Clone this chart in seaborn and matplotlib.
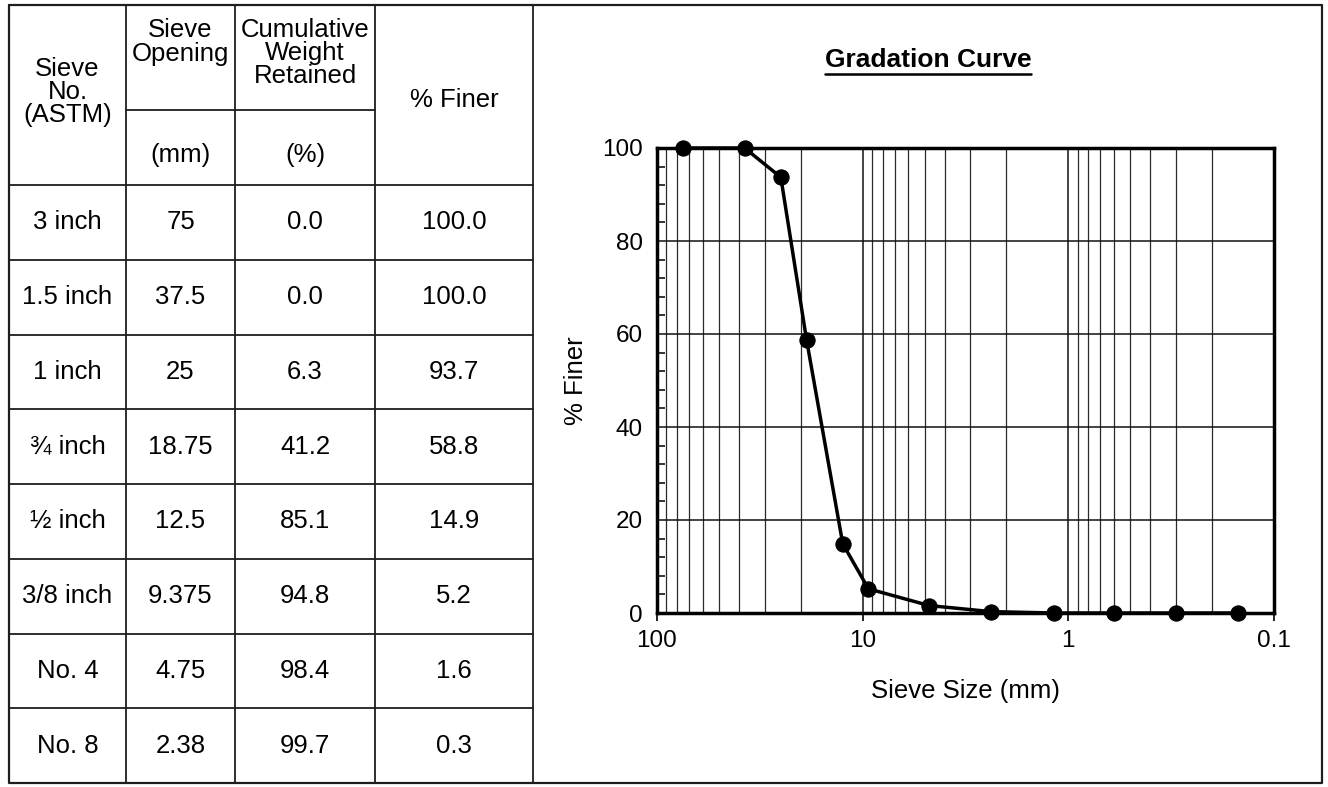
import matplotlib
matplotlib.use("Agg")
import matplotlib.pyplot as plt
import seaborn as sns
from matplotlib.ticker import MultipleLocator, LogLocator, NullFormatter

# --- table data ---
sieve_no = ["3 inch", "1.5 inch", "1 inch", "¾ inch", "½ inch", "3/8 inch", "No. 4", "No. 8"]
sieve_opening = ["75", "37.5", "25", "18.75", "12.5", "9.375", "4.75", "2.38"]
cum_retained = ["0.0", "0.0", "6.3", "41.2", "85.1", "94.8", "98.4", "99.7"]
pct_finer = ["100.0", "100.0", "93.7", "58.8", "14.9", "5.2", "1.6", "0.3"]

# --- curve data (table sieves plus the finer sieves at 0 %) ---
curve_size = [75, 37.5, 25, 18.75, 12.5, 9.375, 4.75, 2.38, 1.18, 0.6, 0.3, 0.15]
curve_finer = [100.0, 100.0, 93.7, 58.8, 14.9, 5.2, 1.6, 0.3, 0.0, 0.0, 0.0, 0.0]
x_ticks = [100, 10, 1, 0.1]
x_ticklabels = ["100", "10", "1", "0.1"]

sns.set_style("ticks")
plt.rcParams['font.family'] = ['Liberation Sans', 'DejaVu Sans']
plt.rcParams['text.color'] = 'black'
plt.rcParams['axes.labelcolor'] = 'black'
plt.rcParams['xtick.color'] = 'black'
plt.rcParams['ytick.color'] = 'black'

W, H = 1328, 787
fig = plt.figure(figsize=(W / 100, H / 100), dpi=100)
fig.patch.set_facecolor("white")

# background axes in pixel units for the table and the frame
bg = fig.add_axes([0, 0, 1, 1], zorder=0)
bg.set_xlim(0, W)
bg.set_ylim(H, 0)
bg.axis("off")

lc = "#1e1e1e"
# outer frame
bg.plot([9, 1322, 1322, 9, 9], [5, 5, 783, 783, 5], color=lc, lw=1.6)
# column lines
col_x = [9, 126, 235, 375, 533]
for cx in col_x[1:]:
    bg.plot([cx, cx], [5, 783], color=lc, lw=1.3)
# header sub line (units row)
bg.plot([126, 375], [110, 110], color=lc, lw=1.3)
# row lines
top_row, bottom = 185, 783
row_h = (bottom - top_row) / len(sieve_no)
for i in range(len(sieve_no)):
    y = top_row + i * row_h
    bg.plot([9, 533], [y, y], color=lc, lw=1.3)

fs = 18.5
centers = [(col_x[i] + col_x[i + 1]) / 2 for i in range(4)]
bg.text(centers[0], 92, "Sieve\nNo.\n(ASTM)", ha="center", va="center", fontsize=fs, linespacing=0.95)
bg.text(centers[1], 42, "Sieve\nOpening", ha="center", va="center", fontsize=fs, linespacing=0.95)
bg.text(centers[2], 53, "Cumulative\nWeight\nRetained", ha="center", va="center", fontsize=fs, linespacing=0.95)
bg.text(centers[3], 100, "% Finer", ha="center", va="center", fontsize=fs)
bg.text(centers[1], 155, "(mm)", ha="center", va="center", fontsize=fs)
bg.text(centers[2], 155, "(%)", ha="center", va="center", fontsize=fs)

for i, row in enumerate(zip(sieve_no, sieve_opening, cum_retained, pct_finer)):
    yc = top_row + (i + 0.5) * row_h
    for j, val in enumerate(row):
        bg.text(centers[j], yc, val, ha="center", va="center", fontsize=fs)

# --- gradation curve ---
ax = fig.add_axes([657 / W, 1 - 613 / H, (1274 - 657) / W, (613 - 148) / H], zorder=2)
ax.set_facecolor("white")
sns.lineplot(x=curve_size, y=curve_finer, ax=ax, color="black", lw=2.5, marker="o",
             markersize=11, markeredgecolor="black", sort=False, estimator=None, clip_on=False, zorder=5)
ax.set_xscale("log")
ax.set_xlim(100, 0.1)
ax.set_ylim(0, 100)
ax.set_xticks(x_ticks)
ax.set_xticklabels(x_ticklabels)
ax.xaxis.set_minor_locator(LogLocator(base=10, subs=range(2, 10)))
ax.xaxis.set_minor_formatter(NullFormatter())
ax.set_yticks([0, 20, 40, 60, 80, 100])
ax.yaxis.set_minor_locator(MultipleLocator(4))

ax.grid(which="major", axis="both", color="#111111", lw=1.1)
ax.grid(which="minor", axis="x", color="#2a2a2a", lw=0.9)
ax.tick_params(axis="x", which="major", direction="out", length=6, width=1.2, labelsize=17.5, pad=6)
ax.tick_params(axis="x", which="minor", length=0)
ax.tick_params(axis="y", which="major", direction="in", length=0, labelsize=17.5, pad=10)
ax.tick_params(axis="y", which="minor", direction="in", length=6, width=1.1, left=True)
for s in ax.spines.values():
    s.set_linewidth(2.5)
    s.set_color("black")

ax.set_xlabel("Sieve Size (mm)", fontsize=fs, labelpad=20)
ax.set_ylabel("% Finer", fontsize=fs, labelpad=10)

title = bg.text(928, 60, "Gradation Curve", ha="center", va="center", fontsize=19,
                fontweight="bold", family=["Liberation Sans Narrow", "Liberation Sans"])
fig.canvas.draw()
bb = title.get_window_extent()
inv = bg.transData.inverted()
(x0, y0), (x1, y1) = inv.transform([(bb.x0, bb.y0), (bb.x1, bb.y1)])
bg.plot([x0, x1], [y0 + 2, y0 + 2], color="black", lw=1.8)

fig.savefig("out.png", dpi=100, facecolor="white")
